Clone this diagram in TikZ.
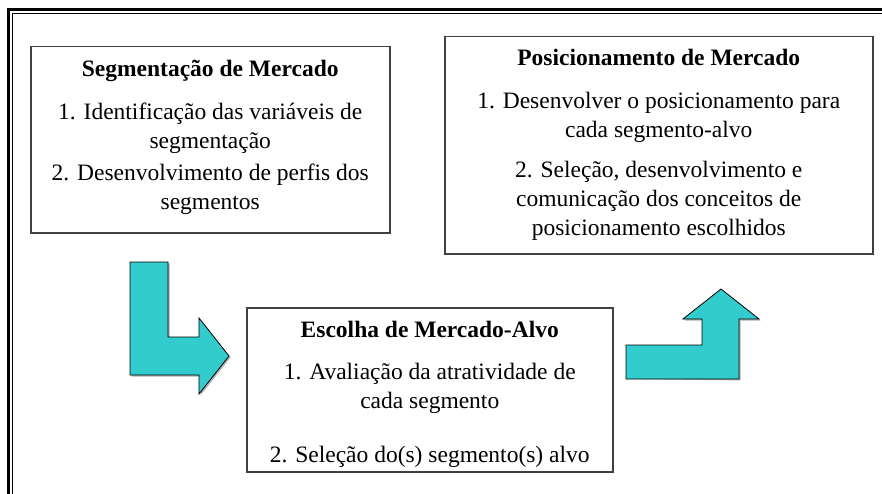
\documentclass[tikz,border=0pt]{standalone}
\usepackage{fontspec}
\setmainfont{Liberation Serif}
\definecolor{arrowteal}{RGB}{51,204,204}
\begin{document}
\begin{tikzpicture}[x=1pt,y=-1pt,
  box/.style={draw=black!75, line width=1.5pt, fill=white, align=center,
    inner sep=0pt, anchor=north west, font=\fontsize{23.5}{29}\selectfont},
  blockarrow/.style={fill=arrowteal, draw=black, line width=0.8pt, line join=miter},
  arrowshadow/.style={fill=black!30, draw=none}]
\useasboundingbox (0,0) rectangle (882,494);
\fill[white] (0,0) rectangle (882,494);
% outer frame (thick-thin)
\draw[line width=3pt] (8.5,494) -- (8.5,9.5) -- (882,9.5);
\draw[line width=1pt] (12.5,494) -- (12.5,13.5) -- (882,13.5);

% boxes
\node[box, minimum width=359pt, minimum height=186pt] (seg) at (30,46)
  {\textbf{Segmentação de Mercado}\\[14pt]
   1. Identificação das variáveis de\\
   segmentação\\[3pt]
   2. Desenvolvimento de perfis dos\\
   segmentos\rule[-10pt]{0pt}{0pt}};
\node[box, minimum width=428pt, minimum height=217pt] (pos) at (444,36)
  {\textbf{Posicionamento de Mercado}\\[14pt]
   1. Desenvolver o posicionamento para\\
   cada segmento-alvo\\[11pt]
   2. Seleção, desenvolvimento e\\
   comunicação dos conceitos de\\
   posicionamento escolhidos};
\node[box, minimum width=366pt, minimum height=164pt] (esc) at (246,307)
  {\rule{0pt}{26pt}\textbf{Escolha de Mercado-Alvo}\\[13pt]
   1. Avaliação da atratividade de\\
   cada segmento\\[25pt]
   2. Seleção do(s) segmento(s) alvo};

% block arrow 1 (down then right)
\coordinate (a1) at (130,262);
\fill[arrowshadow, shift={(1.5,1.5)}] (a1) -- (168,262) -- (168,337) -- (199,337) -- (199,318)
  -- (229,356) -- (199,394) -- (199,375) -- (130,375) -- cycle;
\draw[blockarrow] (a1) -- (168,262) -- (168,337) -- (199,337) -- (199,318)
  -- (229,356) -- (199,394) -- (199,375) -- (130,375) -- cycle;

% block arrow 2 (right then up)
\coordinate (a2) at (626,379);
\fill[arrowshadow, shift={(1.5,1.5)}] (a2) -- (626,345) -- (702,345) -- (702,319) -- (683,319)
  -- (721,289) -- (759,319) -- (739,319) -- (739,379) -- cycle;
\draw[blockarrow] (a2) -- (626,345) -- (702,345) -- (702,319) -- (683,319)
  -- (721,289) -- (759,319) -- (739,319) -- (739,379) -- cycle;
\end{tikzpicture}
\end{document}
